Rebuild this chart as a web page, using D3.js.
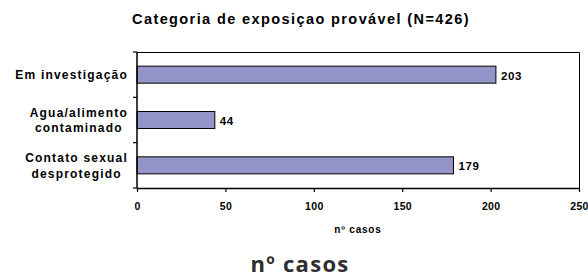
<!DOCTYPE html>
<html>
<head>
<meta charset="utf-8">
<script src="https://cdn.jsdelivr.net/npm/d3@7"></script>
<style>
body{margin:0;background:#fff;}
svg text{font-family:"Liberation Sans",Arial,sans-serif;font-weight:bold;fill:#000;}
</style>
</head>
<body>
<div id="chart"></div>
<script>
var categories = [["Em investigação"], ["Agua/alimento","contaminado"], ["Contato sexual","desprotegido"]];
var values = [203, 44, 179];
var xTicks = [0, 50, 100, 150, 200, 250];

var width = 588, height = 277;
var plotLeft = 137, plotRight = 579, plotTop = 52, plotBottom = 188;

var svg = d3.select('#chart').append('svg')
  .attr('width', width).attr('height', height);

var x = d3.scaleLinear().domain([0, 250]).range([plotLeft, plotRight]);
var y = d3.scaleBand().domain(d3.range(values.length)).range([plotTop, plotBottom])
  .paddingInner(0.625).paddingOuter(0.3125);

svg.append('text').attr('x', 301).attr('y', 24).attr('text-anchor', 'middle')
  .style('font-size', '14.5px').style('letter-spacing', '1.4px')
  .text('Categoria de exposiçao provável (N=426)');

// frame top/right
svg.append('path').attr('d', 'M' + plotLeft + ',' + (plotTop + 0.5) + 'H' + (plotRight + 0.5) + 'V' + plotBottom)
  .attr('fill', 'none').attr('stroke', '#000').attr('stroke-width', 1);

// bars
svg.selectAll('rect.bar').data(values).enter().append('rect')
  .attr('class', 'bar')
  .attr('x', plotLeft)
  .attr('y', function(d, i){ return y(i); })
  .attr('width', function(d){ return x(d) - plotLeft; })
  .attr('height', y.bandwidth())
  .attr('fill', '#9494c8').attr('stroke', '#000').attr('stroke-width', 1);

svg.selectAll('text.val').data(values).enter().append('text')
  .attr('class', 'val')
  .attr('x', function(d){ return x(d) + 5; })
  .attr('y', function(d, i){ return y(i) + y.bandwidth() / 2 + 5; })
  .style('font-size', '11.5px').style('letter-spacing', '0.6px')
  .text(function(d){ return d; });

// x axis
var xAxis = svg.append('g').attr('transform', 'translate(0,' + plotBottom + ')')
  .call(d3.axisBottom(x).tickValues(xTicks).tickSize(4).tickSizeOuter(0));
xAxis.select('.domain').attr('stroke-width', 1.5);
xAxis.selectAll('.tick line').attr('stroke-width', 1.2);
xAxis.selectAll('text').attr('font-family', null).attr('font-size', null)
  .attr('y', 22).attr('dy', null)
  .style('font-size', '10.5px').style('letter-spacing', '0.3px');

// left axis with ticks at category boundaries
svg.append('line').attr('x1', plotLeft).attr('x2', plotLeft).attr('y1', plotTop).attr('y2', plotBottom)
  .attr('stroke', '#000').attr('stroke-width', 1.5);
var step = (plotBottom - plotTop) / values.length;
svg.selectAll('line.ytick').data(d3.range(values.length + 1)).enter().append('line')
  .attr('class', 'ytick')
  .attr('x1', plotLeft - 4).attr('x2', plotLeft)
  .attr('y1', function(d){ return plotTop + d * step; })
  .attr('y2', function(d){ return plotTop + d * step; })
  .attr('stroke', '#000').attr('stroke-width', 1.2);

// category labels
categories.forEach(function(lines, i){
  var cy = y(i) + y.bandwidth() / 2;
  var g = svg.append('text').style('font-size', '12px').style('letter-spacing', '1.2px')
    .attr('text-anchor', 'middle');
  var spans = lines.map(function(l, k){
    return g.append('tspan').attr('y', cy + 4.5 + (k - (lines.length - 1) / 2) * 15.6).text(l);
  });
  var w = d3.max(spans, function(s){ return s.node().getComputedTextLength(); });
  spans.forEach(function(s){ s.attr('x', 128 - w / 2); });
});

svg.append('text').attr('x', (plotLeft + plotRight) / 2).attr('y', 233).attr('text-anchor', 'middle')
  .style('font-size', '10px').style('letter-spacing', '0.8px').text('nº casos');

svg.append('text').attr('x', 300).attr('y', 272).attr('text-anchor', 'middle')
  .style('font-family', '"Open Sans","Noto Sans",sans-serif').style('font-size', '22px')
  .style('font-weight', 'bold').style('letter-spacing', '1.3px').style('fill', '#2e2e2e')
  .text('nº casos');
</script>
</body>
</html>
